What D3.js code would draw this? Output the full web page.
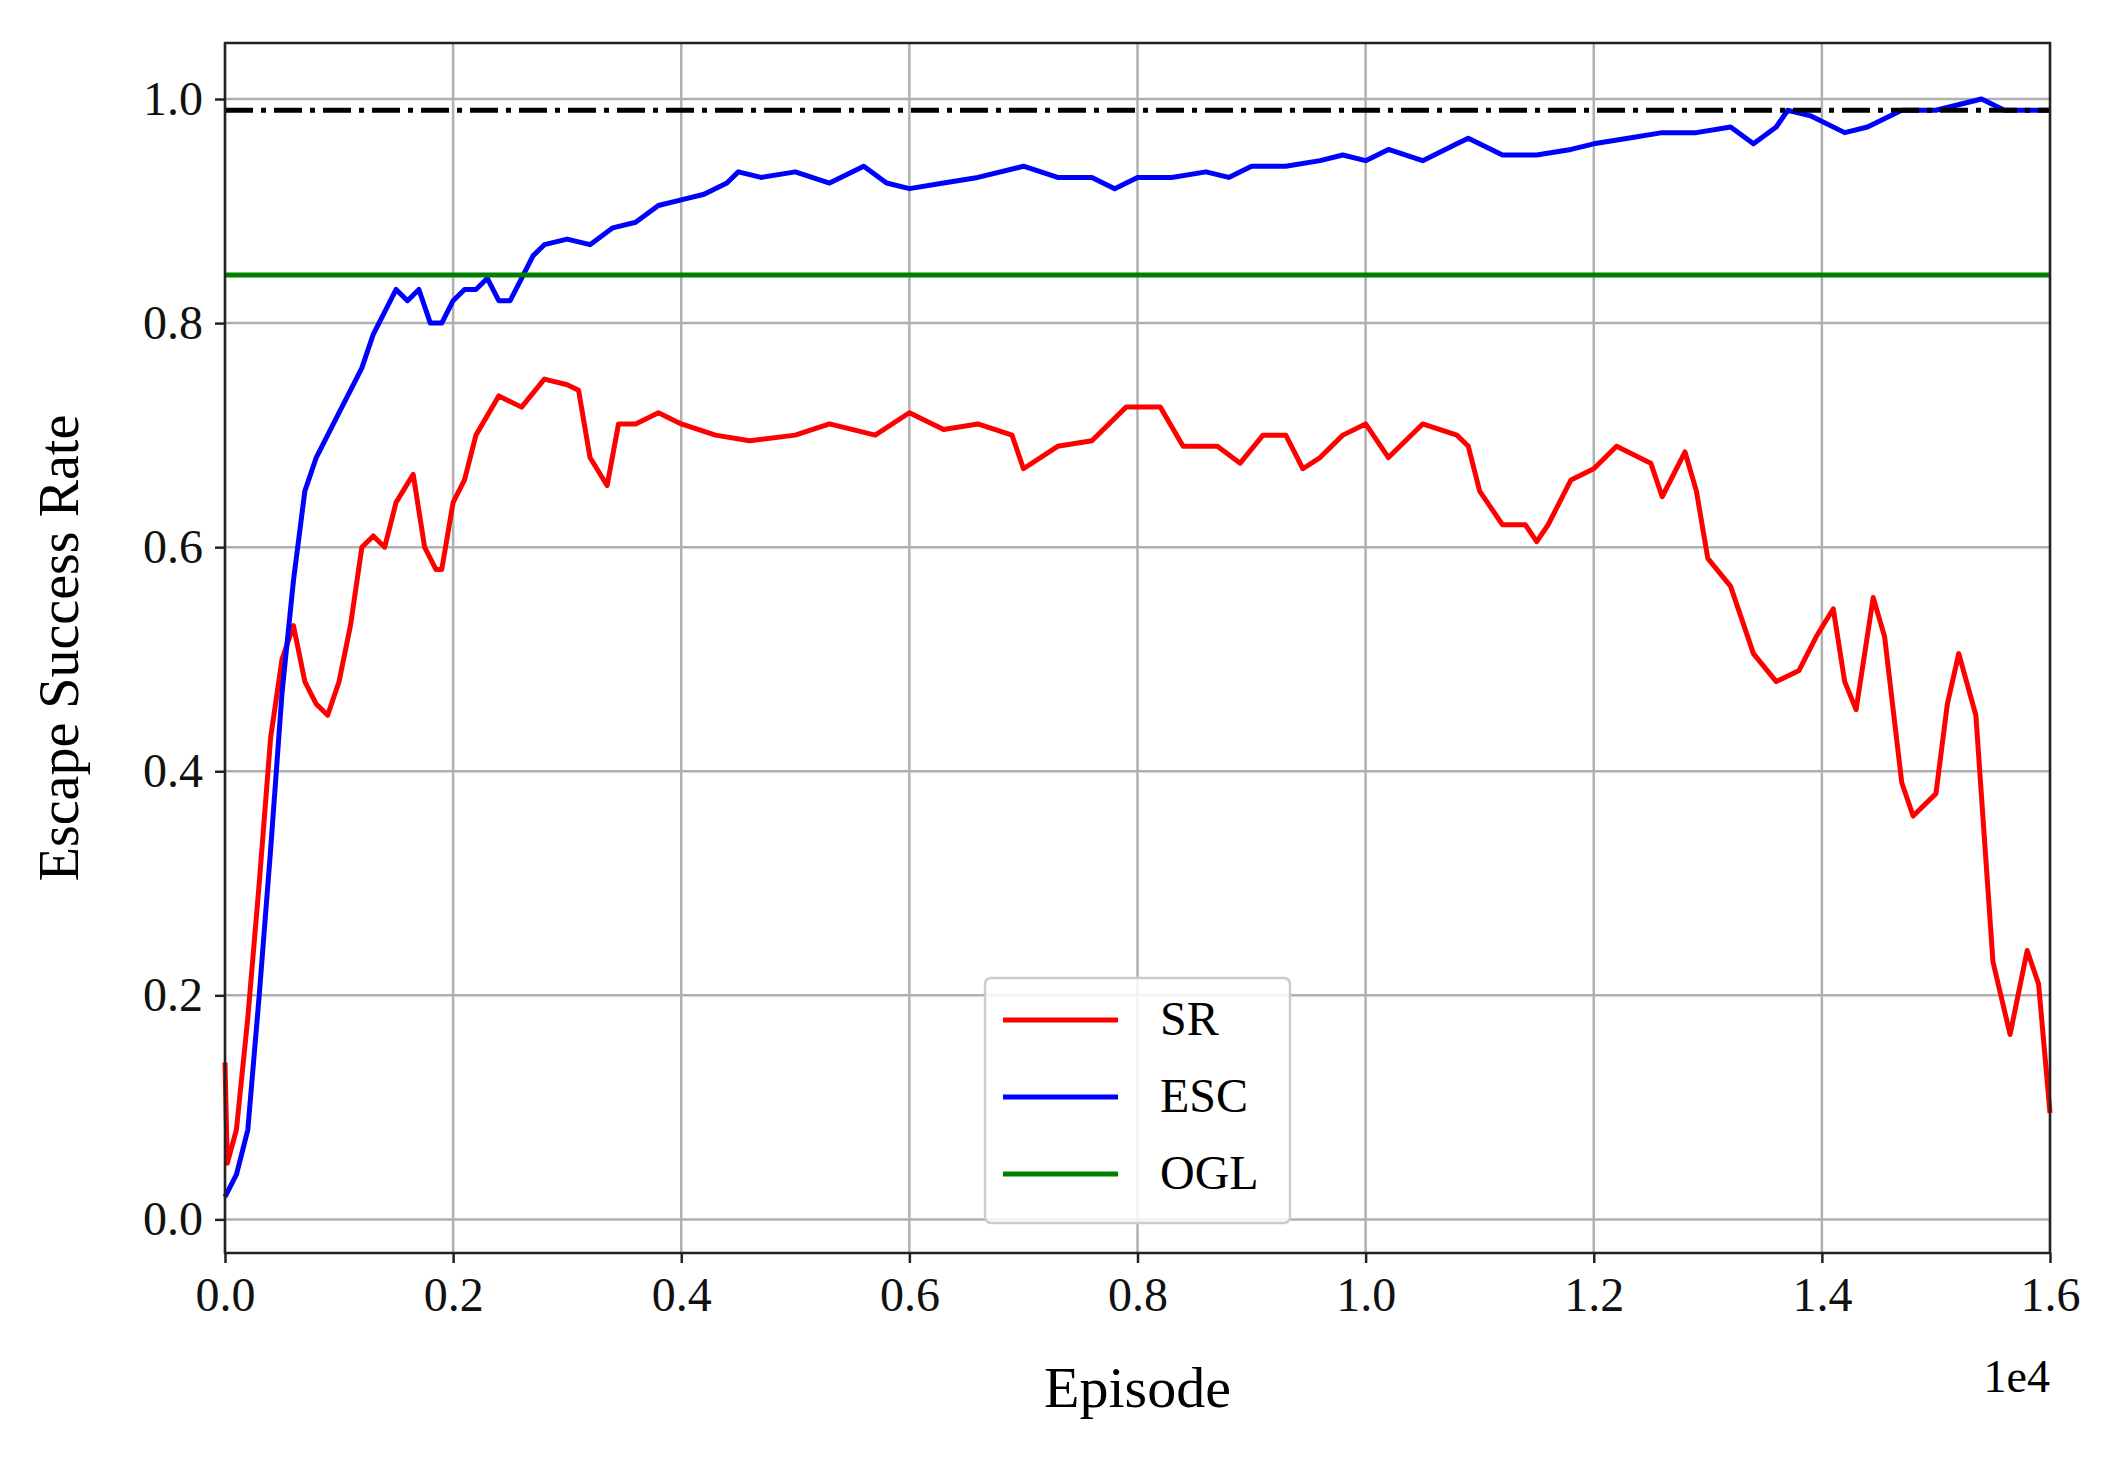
<!DOCTYPE html>
<html><head><meta charset="utf-8">
<script src="https://cdn.jsdelivr.net/npm/d3@7"></script>
<style>body{margin:0;background:#fff}</style></head>
<body><svg id="c"></svg>
<script>
// episode (x1000) / value pairs
const escX = [0,0.1,0.2,0.3,0.4,0.5,0.6,0.7,0.8,0.9,1.0,1.1,1.2,1.3,1.4,1.5,1.6,1.7,1.8,1.9,2.0,2.1,2.2,2.3,2.4,2.5,2.6,2.7,2.8,3.0,3.2,3.4,3.6,3.8,4.0,4.2,4.4,4.5,4.7,5.0,5.3,5.6,5.8,6.0,6.3,6.6,7.0,7.3,7.6,7.8,8.0,8.3,8.6,8.8,9.0,9.3,9.6,9.8,10.0,10.2,10.5,10.8,10.9,11.2,11.5,11.8,12.0,12.3,12.6,12.9,13.2,13.4,13.6,13.7,13.9,14.2,14.4,14.7,15.0,15.4,15.6,16.0];
const escY = [0.02,0.04,0.08,0.2,0.33,0.47,0.57,0.65,0.68,0.7,0.72,0.74,0.76,0.79,0.81,0.83,0.82,0.83,0.8,0.8,0.82,0.83,0.83,0.84,0.82,0.82,0.84,0.86,0.87,0.875,0.87,0.885,0.89,0.905,0.91,0.915,0.925,0.935,0.93,0.935,0.925,0.94,0.925,0.92,0.925,0.93,0.94,0.93,0.93,0.92,0.93,0.93,0.935,0.93,0.94,0.94,0.945,0.95,0.945,0.955,0.945,0.96,0.965,0.95,0.95,0.955,0.96,0.965,0.97,0.97,0.975,0.96,0.975,0.99,0.985,0.97,0.975,0.99,0.99,1.0,0.99,0.99];
const srX = [0,0.02,0.1,0.2,0.3,0.4,0.5,0.6,0.7,0.8,0.9,1.0,1.1,1.2,1.3,1.4,1.5,1.65,1.75,1.85,1.9,2.0,2.1,2.2,2.4,2.6,2.8,3.0,3.1,3.2,3.35,3.45,3.6,3.8,4.0,4.3,4.6,5.0,5.3,5.7,6.0,6.3,6.6,6.9,7.0,7.3,7.6,7.9,8.2,8.4,8.7,8.9,9.1,9.3,9.45,9.6,9.8,10.0,10.2,10.5,10.8,10.9,11.0,11.2,11.4,11.5,11.6,11.8,12.0,12.2,12.5,12.6,12.8,12.9,13.0,13.2,13.4,13.6,13.8,13.95,14.1,14.2,14.3,14.45,14.55,14.7,14.8,15.0,15.1,15.2,15.35,15.5,15.65,15.8,15.9,16.0];
const srY = [0.14,0.05,0.08,0.18,0.3,0.43,0.5,0.53,0.48,0.46,0.45,0.48,0.53,0.6,0.61,0.6,0.64,0.665,0.6,0.58,0.58,0.64,0.66,0.7,0.735,0.725,0.75,0.745,0.74,0.68,0.655,0.71,0.71,0.72,0.71,0.7,0.695,0.7,0.71,0.7,0.72,0.705,0.71,0.7,0.67,0.69,0.695,0.725,0.725,0.69,0.69,0.675,0.7,0.7,0.67,0.68,0.7,0.71,0.68,0.71,0.7,0.69,0.65,0.62,0.62,0.605,0.62,0.66,0.67,0.69,0.675,0.645,0.685,0.65,0.59,0.565,0.505,0.48,0.49,0.52,0.545,0.48,0.455,0.555,0.52,0.39,0.36,0.38,0.46,0.505,0.45,0.23,0.165,0.24,0.21,0.095];
const oglValue = 0.843;
const refValue = 0.99;
const xTicks = [0,0.2,0.4,0.6,0.8,1.0,1.2,1.4,1.6];
const yTicks = [0,0.2,0.4,0.6,0.8,1.0];
const legendNames = ["SR","ESC","OGL"];
const legendColors = ["#ff0000","#0000ff","#008000"];

const W = 2101, H = 1457;
const m = {l:225, r:2050, t:43, b:1253};
const font = "'Liberation Serif', 'Times New Roman', serif";
const svg = d3.select("#c").attr("width", W).attr("height", H).style("font-family", font);

const x = d3.scaleLinear().domain([0,16000]).range([m.l, m.r]);
const y = d3.scaleLinear().domain([-0.03,1.05]).range([m.b, m.t]);

// grid
svg.append("g").selectAll("line").data(xTicks).enter().append("line")
  .attr("x1", d => x(d*1e4)).attr("x2", d => x(d*1e4))
  .attr("y1", m.t).attr("y2", m.b).attr("stroke", "#b0b0b0").attr("stroke-width", 2.5);
svg.append("g").selectAll("line").data(yTicks).enter().append("line")
  .attr("y1", d => y(d)).attr("y2", d => y(d))
  .attr("x1", m.l).attr("x2", m.r).attr("stroke", "#b0b0b0").attr("stroke-width", 2.5);

const line = d3.line().x(d => x(d[0]*1000)).y(d => y(d[1]));
svg.append("path").datum(srX.map((v,i) => [v, srY[i]]))
  .attr("d", line).attr("fill", "none").attr("stroke", "#ff0000").attr("stroke-width", 5).attr("stroke-linejoin", "round");
svg.append("path").datum(escX.map((v,i) => [v, escY[i]]))
  .attr("d", line).attr("fill", "none").attr("stroke", "#0000ff").attr("stroke-width", 5).attr("stroke-linejoin", "round");
svg.append("line").attr("x1", m.l).attr("x2", m.r).attr("y1", y(oglValue)).attr("y2", y(oglValue))
  .attr("stroke", "#008000").attr("stroke-width", 5);
svg.append("line").attr("x1", m.l).attr("x2", m.r).attr("y1", y(refValue)).attr("y2", y(refValue))
  .attr("stroke", "#000").attr("stroke-width", 5).attr("stroke-dasharray", "28,8,5,8");

// frame
svg.append("rect").attr("x", m.l).attr("y", m.t).attr("width", m.r-m.l).attr("height", m.b-m.t)
  .attr("fill", "none").attr("stroke", "#222").attr("stroke-width", 2.5);

// axes
const xa = svg.append("g").attr("transform", `translate(0,${m.b})`)
  .call(d3.axisBottom(x).tickValues(xTicks.map(d => d*1e4)).tickFormat(d => (d/1e4).toFixed(1)).tickSize(10).tickPadding(14));
const ya = svg.append("g").attr("transform", `translate(${m.l},0)`)
  .call(d3.axisLeft(y).tickValues(yTicks).tickFormat(d3.format(".1f")).tickSize(10).tickPadding(12));
[xa, ya].forEach(a => {
  a.select(".domain").remove();
  a.selectAll("line").attr("stroke", "#222").attr("stroke-width", 2.5);
  a.selectAll("text").attr("font-family", font).attr("font-size", 48).attr("fill", "#111");
});

svg.append("text").attr("x", (m.l+m.r)/2).attr("y", 1407).attr("text-anchor", "middle")
  .attr("font-size", 58).text("Episode");
svg.append("text").attr("x", m.r).attr("y", 1392).attr("text-anchor", "end")
  .attr("font-size", 46).text("1e4");
svg.append("text").attr("transform", `translate(78,${(m.t+m.b)/2}) rotate(-90)`)
  .attr("text-anchor", "middle").attr("font-size", 56).text("Escape Success Rate");

// legend
const lg = svg.append("g").attr("transform", "translate(985,978)");
lg.append("rect").attr("width", 305).attr("height", 245).attr("rx", 6)
  .attr("fill", "#fff").attr("fill-opacity", 0.85).attr("stroke", "#ccc").attr("stroke-width", 2.5);
legendNames.forEach((n, i) => {
  const yy = 42 + i*77;
  lg.append("line").attr("x1", 18).attr("x2", 133).attr("y1", yy).attr("y2", yy)
    .attr("stroke", legendColors[i]).attr("stroke-width", 5);
  lg.append("text").attr("x", 175).attr("y", yy + 15).attr("font-size", 48).text(n);
});
</script></body></html>
